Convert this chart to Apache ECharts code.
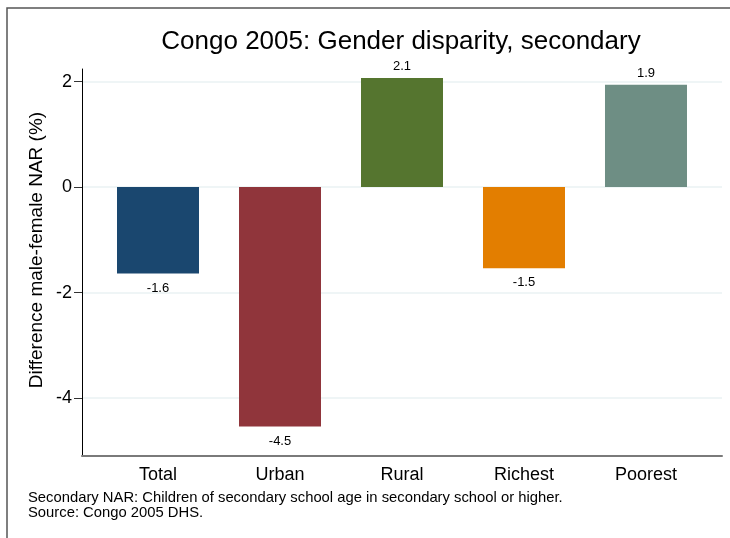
<!DOCTYPE html>
<html>
<head>
<meta charset="utf-8">
<script src="https://cdn.jsdelivr.net/npm/echarts@6/dist/echarts.min.js"></script>
<style>html,body{margin:0;padding:0;background:#fff}#c{width:730px;height:538px}</style>
</head>
<body>
<div id="c"></div>
<script>
const categories = ['Total', 'Urban', 'Rural', 'Richest', 'Poorest'];
const values = [-1.64, -4.54, 2.07, -1.54, 1.94];
const colors = ['#1a476f', '#90353b', '#55752f', '#e37e00', '#6e8e84'];
const yTicks = [-4, -2, 0, 2];
const FONT = 'Liberation Sans, Arial, Helvetica, sans-serif';

const chart = echarts.init(document.getElementById('c'), null, {renderer: 'canvas'});
const data = values.map((v, i) => ({
  value: [i, v],
  itemStyle: {color: colors[i]},
  label: {position: v >= 0 ? 'top' : 'bottom', distance: v >= 0 ? 5 : 8}
}));
chart.setOption({
  animation: false,
  textStyle: {fontFamily: FONT},
  grid: {left: 82, right: 8, top: 69, bottom: 82, containLabel: false},
  xAxis: {
    type: 'value', min: -0.623, max: 4.623,
    axisLine: {show: true, onZero: false, lineStyle: {color: '#7a7a7a', width: 2}},
    axisTick: {show: false},
    splitLine: {show: false},
    axisLabel: {
      customValues: [0, 1, 2, 3, 4],
      formatter: v => categories[Math.round(v)] || '',
      fontSize: 18, color: '#000', margin: 10, fontFamily: FONT
    }
  },
  yAxis: {
    type: 'value', min: -5.1, max: 2.24,
    axisLine: {show: true, onZero: false, lineStyle: {color: '#000', width: 1}},
    axisTick: {show: true, customValues: yTicks, length: 8, lineStyle: {color: '#333'}},
    axisLabel: {customValues: yTicks, fontSize: 18, color: '#000', margin: 10, fontFamily: FONT},
    splitLine: {show: false}
  },
  series: [
    {
      type: 'line', data: [], z: 1, silent: true,
      markLine: {
        z: 0, silent: true, symbol: 'none', label: {show: false},
        lineStyle: {color: '#eaf2f3', width: 1.5, type: 'solid'},
        data: yTicks.map(t => ({yAxis: t}))
      }
    },
    {
      type: 'bar', z: 3, barWidth: 82,
      data: data,
      label: {
        show: true, fontSize: 13, color: '#000', fontFamily: FONT,
        formatter: p => p.value[1].toFixed(1)
      }
    }
  ],
  graphic: [
    {type: 'rect', silent: true, z: -1, shape: {x: 7, y: 8, width: 800, height: 600},
     style: {fill: 'none', stroke: '#555', lineWidth: 1.5}},
    {type: 'text', silent: true, x: 401, y: 42,
     style: {text: 'Congo 2005: Gender disparity, secondary', font: '26px ' + FONT, fill: '#000',
             textAlign: 'center', textVerticalAlign: 'middle'}},
    {type: 'text', silent: true, x: 37, y: 250, rotation: Math.PI / 2,
     style: {text: 'Difference male-female NAR (%)', font: '19px ' + FONT, fill: '#000',
             textAlign: 'center', textVerticalAlign: 'middle'}},
    {type: 'text', left: 28, top: 490, silent: true,
     style: {text: 'Secondary NAR: Children of secondary school age in secondary school or higher.\nSource: Congo 2005 DHS.',
             font: '14.8px ' + FONT, fill: '#000', lineHeight: 15}}
  ]
});
</script>
</body>
</html>
